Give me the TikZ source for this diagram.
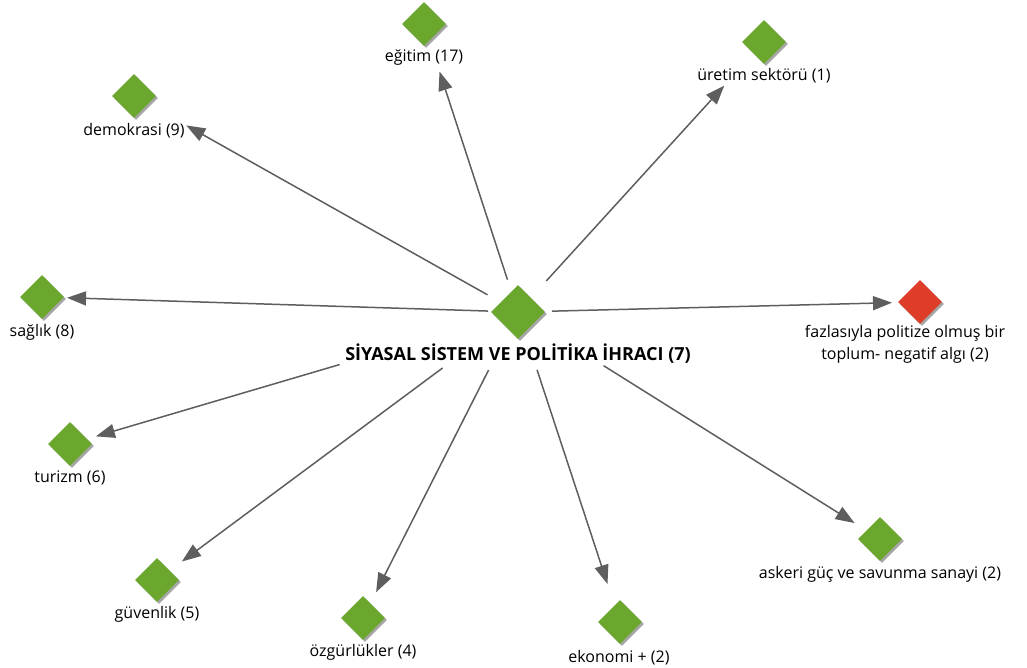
\documentclass[tikz,border=0pt]{standalone}
\usepackage{fontspec}
\setmainfont{Open Sans}
\usetikzlibrary{shapes.geometric,arrows.meta,shadows}
\definecolor{leaf}{HTML}{6AA72C}
\definecolor{alarm}{HTML}{DE3D2A}
\definecolor{wire}{HTML}{5E5E5E}

\begin{document}
\begin{tikzpicture}[x=1pt, y=-1pt,
	dia/.style={shape=diamond, fill=leaf, inner sep=0pt, minimum width=44pt, minimum height=44pt,
		general shadow={fill=black!35, shadow xshift=2pt, shadow yshift=-2pt}},
	txt/.style={font=\fontsize{16}{22}\selectfont, inner sep=0pt, text=black},
	arr/.style={draw=wire, line width=1.5pt, -{Triangle[length=19pt, width=14pt, fill=wire]}}]
	\useasboundingbox (0,0) rectangle (1027,668);

	\node (0) at (518,312) [dia, minimum width=54pt, minimum height=54pt] {};
	\node (1) at (424,24) [dia] {};
	\node (2) at (764,42) [dia] {};
	\node (3) at (134,96) [dia] {};
	\node (4) at (42,297) [dia] {};
	\node (5) at (920,302) [dia, fill=alarm] {};
	\node (6) at (70,444) [dia] {};
	\node (7) at (157,580) [dia] {};
	\node (8) at (363,618) [dia] {};
	\node (9) at (620,622) [dia] {};
	\node (10) at (880,539) [dia] {};

	\node (l0) at (518,354) [txt, font=\fontsize{18}{22}\bfseries] {SİYASAL SİSTEM VE POLİTİKA İHRACI (7)};
	\node (l1) at (424,58) [txt] {eğitim (17)};
	\node (l2) at (764,76) [txt] {üretim sektörü (1)};
	\node (l3) at (134,131) [txt] {demokrasi (9)};
	\node (l4) at (42,332) [txt] {sağlık (8)};
	\node (l5) at (905,344) [txt, align=center] {fazlasıyla politize olmuş bir\\toplum- negatif algı (2)};
	\node (l6) at (70,478) [txt] {turizm (6)};
	\node (l7) at (157,614) [txt] {güvenlik (5)};
	\node (l8) at (363,652) [txt] {özgürlükler (4)};
	\node (l9) at (619,658) [txt] {ekonomi + (2)};
	\node (l10) at (880,574) [txt] {askeri güç ve savunma sanayi (2)};

	\path 	[every edge/.append style=arr]
		(0.center) 	edge [shorten <=34pt, shorten >=50pt] 	(1.center)
				edge [shorten <=42pt, shorten >=59pt] 	(2.center)
				edge [shorten <=35pt, shorten >=60pt] 	(3.center)
				edge [shorten <=30pt, shorten >=25pt] 	(4.center)
				edge [shorten <=34pt, shorten >=28pt] 	(5.center)
				edge [shorten <=186pt, shorten >=27pt] 	(6.center)
				edge [shorten <=94pt, shorten >=31pt] 	(7.center)
				edge [shorten <=65pt, shorten >=29pt] 	(8.center)
				edge [shorten <=61pt, shorten >=40pt] 	(9.center)
				edge [shorten <=101pt, shorten >=30pt] 	(10.center);
\end{tikzpicture}
\end{document}
